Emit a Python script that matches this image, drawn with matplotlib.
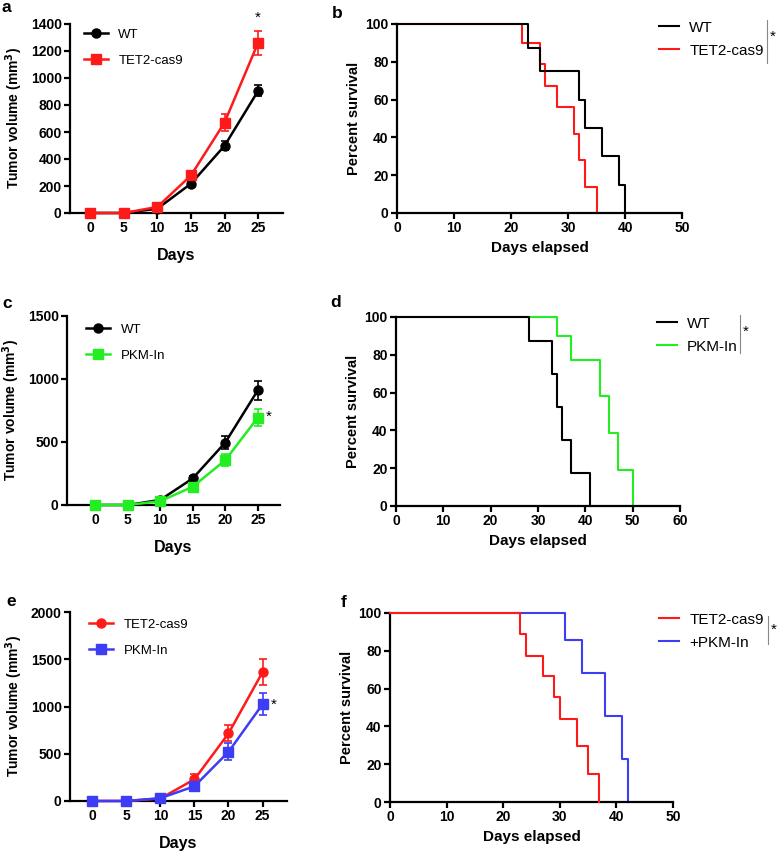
import matplotlib.pyplot as plt
from matplotlib.lines import Line2D

plt.rcParams['font.family'] = ['Liberation Sans', 'DejaVu Sans']

W, H = 779, 859

RED = '#ff1a1a'
GREEN = '#22ee22'
BLUE = '#3d3df5'

# ---- tumor growth data (mean +/- sem) ----
days = [0, 5, 10, 15, 20, 25]

a_wt = [0, 0, 32, 217, 498, 905]
a_wt_err = [0, 0, 6, 12, 35, 42]
a_tet = [0, 0, 45, 278, 670, 1262]
a_tet_err = [0, 0, 6, 15, 62, 88]

c_wt = [0, 0, 40, 211, 496, 911]
c_wt_err = [0, 0, 6, 20, 50, 77]
c_pkm = [0, 0, 30, 145, 356, 694]
c_pkm_err = [0, 0, 6, 40, 45, 69]

e_tet = [0, 0, 27, 230, 715, 1363]
e_tet_err = [0, 0, 8, 60, 85, 138]
e_pkm = [0, 0, 30, 156, 520, 1023]
e_pkm_err = [0, 0, 8, 20, 89, 117]

# ---- survival curves (Kaplan-Meier steps) ----
b_wt_t = [0, 23, 25, 32, 33, 36, 39, 40]
b_wt_s = [100, 87.5, 75, 60, 45, 30, 15, 0]
b_tet_t = [0, 22, 25, 26, 28, 31, 32, 33, 35]
b_tet_s = [100, 90, 79, 67, 56, 42, 28, 14, 0]

d_wt_t = [0, 28, 33, 34, 35, 37, 41]
d_wt_s = [100, 87.5, 70, 52.5, 35, 17.5, 0]
d_pkm_t = [0, 34, 37, 43, 45, 47, 50]
d_pkm_s = [100, 90, 77.5, 58, 38.5, 19, 0]

f_tet_t = [0, 23, 24, 27, 29, 30, 33, 35, 37]
f_tet_s = [100, 89, 77.5, 66.5, 55.5, 44, 29.5, 14.6, 0]
f_pkm_t = [0, 31, 34, 38, 41, 42]
f_pkm_s = [100, 85.5, 68.3, 45.7, 22.8, 0]


def ax_at(fig, left, top, right, bottom):
    return fig.add_axes([left / W, 1 - bottom / H, (right - left) / W, (bottom - top) / H])


def style(ax):
    for s in ['top', 'right']:
        ax.spines[s].set_visible(False)
    for s in ['left', 'bottom']:
        ax.spines[s].set_linewidth(1.6)
    ax.tick_params(width=1.6, length=4, labelsize=10, pad=2)
    for lab in ax.get_xticklabels() + ax.get_yticklabels():
        lab.set_fontweight('bold')


def tumor(ax, series, ymax, ystep, xleft, xright, leg_x, leg_y):
    handles = []
    for vals, err, col, mk, lab in series:
        ax.errorbar(days, vals, yerr=err, color=col, marker=mk, ms=6.5, lw=1.8,
                    capsize=3, elinewidth=1.2, capthick=1.2, clip_on=False, zorder=3)
        handles.append(Line2D([], [], color=col, marker=mk, ms=6.5, lw=1.8, label=lab))
    ax.set_xlim(xleft, xright)
    ax.set_ylim(0, ymax)
    ax.set_xticks(days)
    ax.set_yticks(range(0, ymax + 1, ystep))
    ax.set_xlabel('Days', fontsize=11.5, fontweight='bold', labelpad=9)
    ax.set_ylabel('Tumor volume (mm$^\\mathbf{3}$)', fontsize=10, fontweight='bold', labelpad=4)
    style(ax)
    ax.legend(handles=handles, loc='upper left', bbox_to_anchor=(leg_x, leg_y), frameon=False,
              fontsize=9.5, handlelength=1.8, handletextpad=0.8, labelspacing=1.05, borderpad=0)


def surv(ax, curves, xmax, xstep):
    for t, s, col, lab, z in curves:
        ax.step(t, s, where='post', color=col, lw=1.5, label=lab, clip_on=False, zorder=z)
    ax.set_xlim(0, xmax)
    ax.set_ylim(0, 100)
    ax.set_xticks(range(0, xmax + 1, xstep))
    ax.set_yticks(range(0, 101, 20))
    ax.set_xlabel('Days elapsed', fontsize=11, fontweight='bold', labelpad=4)
    ax.set_ylabel('Percent survival', fontsize=10.5, fontweight='bold', labelpad=3)
    style(ax)


def surv_legend(fig, ax, x, y, barx, bar_top, bar_bot, ast_y):
    ax.legend(loc='upper left', bbox_to_anchor=(x / W, 1 - y / H), bbox_transform=fig.transFigure,
              frameon=False, fontsize=11, handlelength=1.3, handletextpad=0.7, labelspacing=0.6,
              borderpad=0)
    fig.add_artist(Line2D([barx / W, barx / W], [1 - bar_top / H, 1 - bar_bot / H],
                          color='#888888', lw=0.8))
    fig.text((barx + 3) / W, 1 - ast_y / H, '*', fontsize=11, va='center', ha='left')


fig = plt.figure(figsize=(W / 100, H / 100), dpi=100)

# a
ax = ax_at(fig, 70, 24, 283, 213)
tumor(ax, [(a_wt, a_wt_err, 'black', 'o', 'WT'), (a_tet, a_tet_err, RED, 's', 'TET2-cas9')],
      1400, 200, -3, 28.7, 0.035, 1.01)
ax.text(25, 1395, '*', ha='center', va='bottom', fontsize=11)

# b
ax = ax_at(fig, 397, 24, 682, 213)
surv(ax, [(b_wt_t, b_wt_s, 'black', 'WT', 3), (b_tet_t, b_tet_s, RED, 'TET2-cas9', 2)], 50, 10)
surv_legend(fig, ax, 651, 13, 767, 20, 63, 37)

# c
ax = ax_at(fig, 67, 316, 280, 505)
tumor(ax, [(c_wt, c_wt_err, 'black', 'o', 'WT'), (c_pkm, c_pkm_err, GREEN, 's', 'PKM-In')],
      1500, 500, -4.3, 28.4, 0.06, 0.995)
ax.text(26.2, 700, '*', ha='left', va='center', fontsize=11)

# d
ax = ax_at(fig, 396, 317, 680, 506)
surv(ax, [(d_wt_t, d_wt_s, 'black', 'WT', 3), (d_pkm_t, d_pkm_s, GREEN, 'PKM-In', 2)], 60, 10)
surv_legend(fig, ax, 649, 309, 740, 315, 353, 332)

# e
ax = ax_at(fig, 70, 612, 287, 801)
tumor(ax, [(e_tet, e_tet_err, RED, 'o', 'TET2-cas9'), (e_pkm, e_pkm_err, BLUE, 's', 'PKM-In')],
      2000, 500, -3.3, 28.6, 0.058, 1.0)
ax.text(26.2, 1020, '*', ha='left', va='center', fontsize=11)

# f
ax = ax_at(fig, 390, 613, 673, 802)
surv(ax, [(f_tet_t, f_tet_s, RED, 'TET2-cas9', 3), (f_pkm_t, f_pkm_s, BLUE, '+PKM-In', 2)], 50, 10)
surv_legend(fig, ax, 651, 605, 768, 616, 644, 630)

for letter, x, y in [('a', 1, 0), ('b', 332, 6), ('c', 2, 296), ('d', 330, 295),
                     ('e', 6, 594), ('f', 341, 595)]:
    fig.text(x / W, 1 - y / H, letter, fontsize=12.5, fontweight='bold', va='top', ha='left')

fig.savefig('out.png', dpi=100)
